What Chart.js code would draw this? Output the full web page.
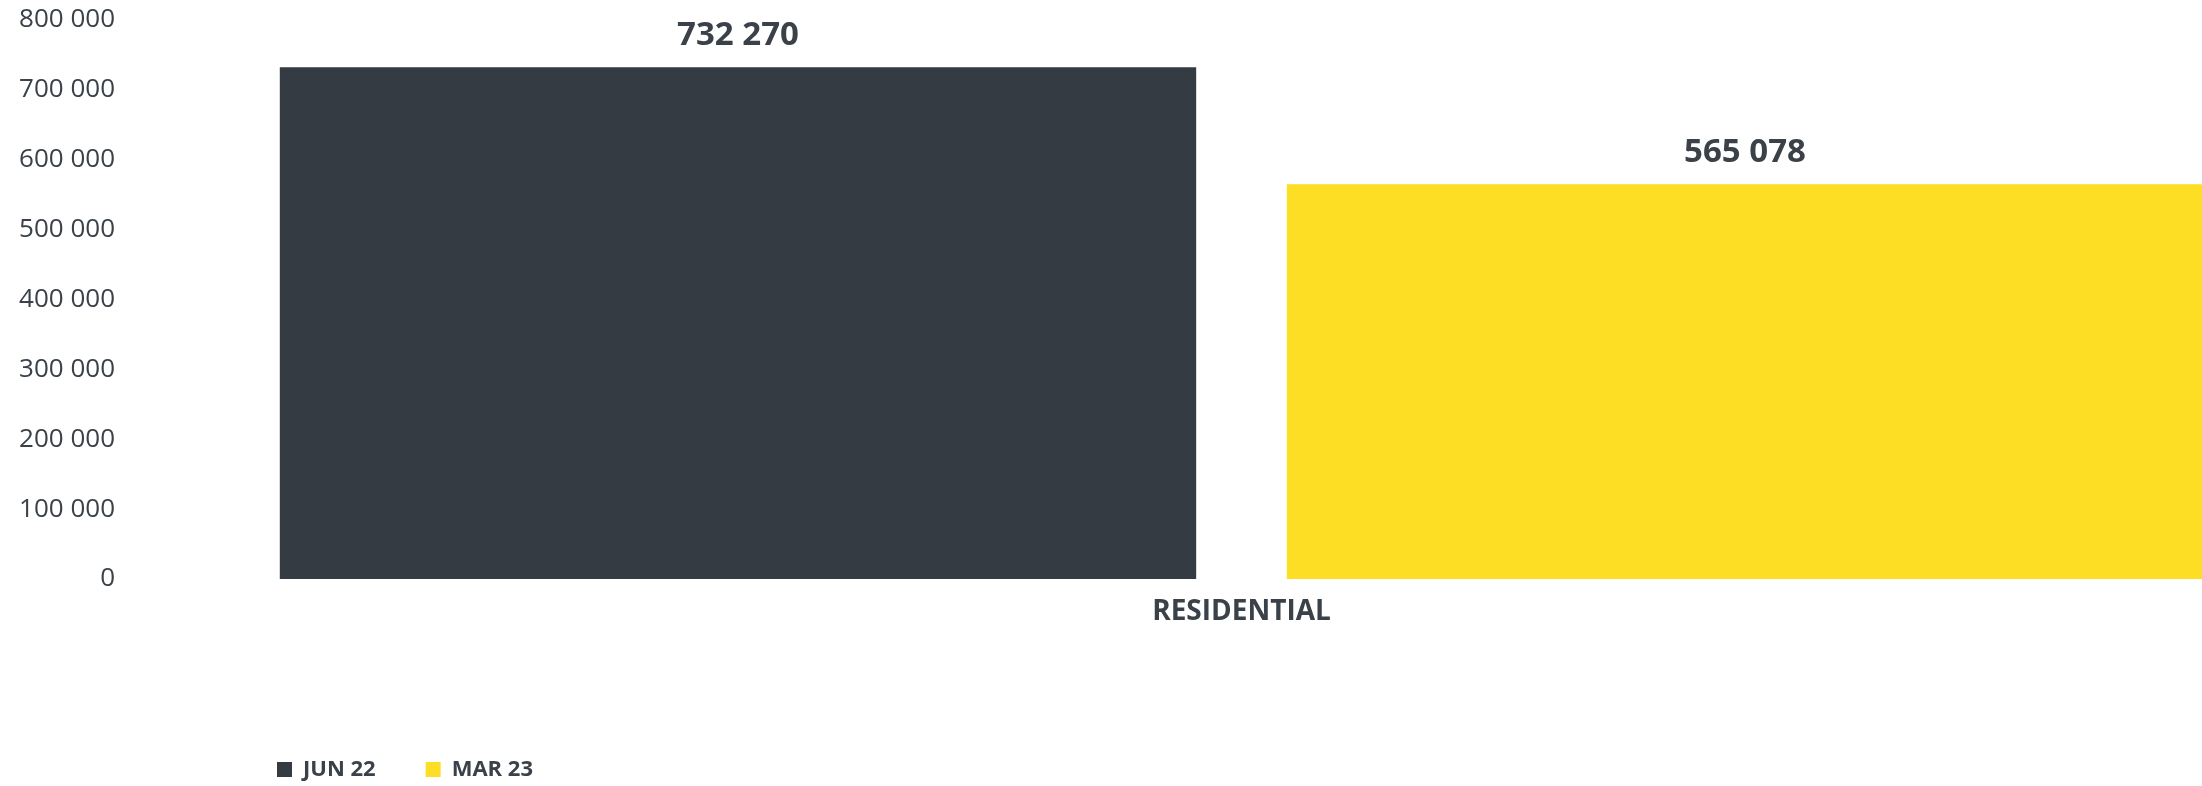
<!DOCTYPE html>
<html lang="en">
<head>
<meta charset="UTF-8">
<title>Residential</title>
<script src="https://cdn.jsdelivr.net/npm/chart.js"></script>
<style>
    html, body {
        margin: 0;
        padding: 0;
        background: #fff;
        overflow: hidden;
    }
    /* the plot runs past the right edge of the window on purpose */
    .grafico {
        width: 2353px;
        height: 786px;
    }
</style>
</head>
<body>
<div class="grafico"><canvas id="chartResidential" width="2353" height="786"></canvas></div>

<script>
    const categorias = ['RESIDENTIAL'];
    const periodos = ['JUN 22', 'MAR 23'];
    const valoresJun22 = [732270];
    const valoresMar23 = [565078];
    const ejeYMin = 0;
    const ejeYMax = 800000;
    const ejeYPaso = 100000;

    const colores = ['#353B42', '#FEDE24'];
    const colorTexto = '#3A4148';
    const fuente = '"Open Sans", "Noto Sans", sans-serif';

    // 732270 -> "732 270"
    function formatear(v) {
        return String(v).replace(/\B(?=(\d{3})+(?!\d))/g, ' ');
    }

    // value above each bar
    const etiquetasValor = {
        id: 'etiquetasValor',
        afterDatasetsDraw(chart) {
            const ctx = chart.ctx;
            ctx.save();
            ctx.font = 'bold 33px ' + fuente;
            ctx.fillStyle = colorTexto;
            ctx.textAlign = 'center';
            ctx.textBaseline = 'alphabetic';
            chart.data.datasets.forEach((ds, i) => {
                chart.getDatasetMeta(i).data.forEach((bar, j) => {
                    ctx.fillText(formatear(ds.data[j]), bar.x, bar.y - 22);
                });
            });
            ctx.restore();
        }
    };

    // move the legend under the first bar instead of the canvas edge
    const posLeyenda = {
        id: 'posLeyenda',
        afterLayout(chart) {
            const l = chart.legend;
            const pad = l.options.labels.padding;
            const dx = 277 - pad - l.left;
            const dy = 770 - pad - 11.5 - l.top;
            l.left += dx; l.right += dx;
            l.top += dy; l.bottom += dy;
        }
    };

    const ctx = document.getElementById('chartResidential').getContext('2d');
    new Chart(ctx, {
        type: 'bar',
        data: {
            labels: categorias,
            datasets: [
                { label: periodos[0], data: valoresJun22, backgroundColor: colores[0] },
                { label: periodos[1], data: valoresMar23, backgroundColor: colores[1] }
            ]
        },
        options: {
            responsive: false,
            animation: false,
            devicePixelRatio: 1,
            categoryPercentage: 0.906,
            barPercentage: 0.91,
            layout: { padding: 0 },
            plugins: {
                legend: {
                    position: 'bottom',
                    align: 'start',
                    labels: {
                        boxWidth: 15,
                        boxHeight: 15,
                        padding: 50,
                        color: colorTexto,
                        font: { family: fuente, size: 22, weight: 'bold' }
                    }
                },
                tooltip: { enabled: false }
            },
            scales: {
                x: {
                    grid: { display: false, drawTicks: false },
                    border: { display: false },
                    ticks: {
                        padding: 16,
                        color: colorTexto,
                        font: { family: fuente, size: 28, weight: 'bold' }
                    },
                    afterFit(s) { s.height = 125; }
                },
                y: {
                    min: ejeYMin,
                    max: ejeYMax,
                    grid: { display: false, drawTicks: false },
                    border: { display: false },
                    ticks: {
                        stepSize: ejeYPaso,
                        padding: 15,
                        color: colorTexto,
                        font: { family: fuente, size: 26 },
                        callback: v => formatear(v)
                    },
                    afterFit(s) {
                        s.width = 130;
                        s.paddingTop = 20;
                    }
                }
            }
        },
        plugins: [etiquetasValor, posLeyenda]
    });
</script>
</body>
</html>
